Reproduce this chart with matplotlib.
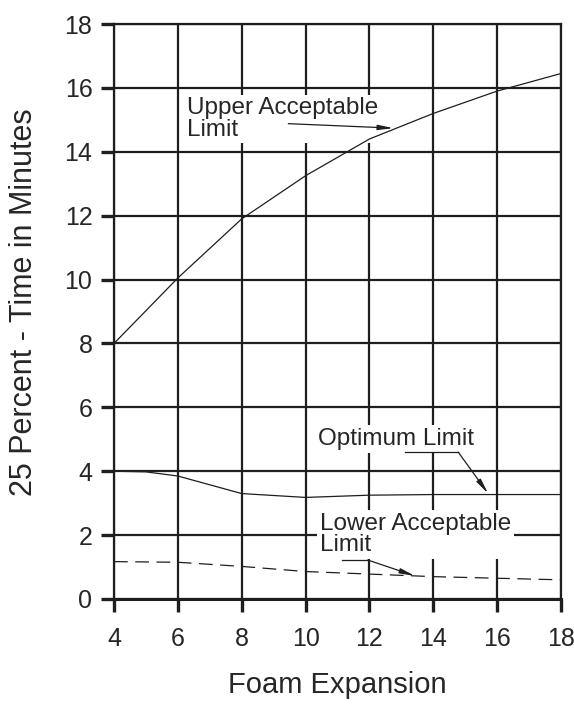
import matplotlib
matplotlib.use("Agg")
import matplotlib.pyplot as plt
import numpy as np

plt.rcParams['font.family'] = ['Liberation Sans', 'DejaVu Sans']

foam_expansion = [4, 6, 8, 10, 12, 14, 16, 18]
upper_limit = [8.0, 10.05, 11.9, 13.25, 14.4, 15.2, 15.9, 16.45]
optimum_x = [4, 5, 6, 8, 10, 12, 14, 16, 18]
optimum_limit = [4.0, 3.98, 3.85, 3.3, 3.18, 3.25, 3.27, 3.27, 3.27]
lower_limit = [1.17, 1.15, 1.02, 0.86, 0.78, 0.70, 0.65, 0.60]

x_ticks = [4, 6, 8, 10, 12, 14, 16, 18]
y_ticks = [0, 2, 4, 6, 8, 10, 12, 14, 16, 18]

fig = plt.figure(figsize=(5.74, 7.06), dpi=100)
ax = fig.add_axes([114/574, 1-599/706, 447/574, 575/706])

ink = '#1e1e1e'
txt = '#262626'
# grid
for xv in x_ticks:
    ax.axvline(xv, color=ink, lw=1.6, zorder=1)
for yv in y_ticks:
    ax.axhline(yv, color=ink, lw=1.6, zorder=1)

ax.plot(foam_expansion, upper_limit, color=ink, lw=0.9, zorder=6)
ax.plot(optimum_x, optimum_limit, color=ink, lw=0.9, zorder=6)
ax.plot(foam_expansion, lower_limit, color=ink, lw=0.9, dashes=(11, 6), zorder=6)

ax.set_xlim(4, 18)
ax.set_ylim(0, 18)
ax.set_xticks(x_ticks)
ax.set_yticks(y_ticks)
ax.tick_params(axis='both', length=9.5, width=2.4, color=ink, labelsize=18,
               labelcolor=txt, direction='out')
ax.tick_params(axis='x', pad=11)
ax.tick_params(axis='y', pad=6)
for s in ax.spines.values():
    s.set_linewidth(1.6)
    s.set_color(ink)
ax.spines['bottom'].set_linewidth(2.2)

ax.set_xlabel('Foam Expansion', fontsize=21, color=txt)
ax.xaxis.set_label_coords(0.5, -0.125)
ax.set_ylabel('25 Percent - Time in Minutes', fontsize=22, color=txt)
ax.yaxis.set_label_coords(-0.168, 0.5165)

bb = dict(facecolor='white', edgecolor='none', pad=2)
fs = 17.5
ax.text(6.29, 15.7, 'Upper Acceptable\nLimit', fontsize=fs, color=txt,
        va='top', ha='left', bbox=bb, zorder=4, linespacing=0.95)
ax.annotate('', xy=(12.75, 14.74), xytext=(9.46, 14.88),
            arrowprops=dict(arrowstyle='-|>,head_length=0.9,head_width=0.15',
                            color=ink, lw=0.9, shrinkA=0, shrinkB=0), zorder=5)

ax.text(10.4, 5.35, 'Optimum Limit', fontsize=fs, color=txt,
        va='top', ha='left', bbox=bb, zorder=4)
ax.plot([13.11, 14.78], [4.6, 4.6], color=ink, lw=0.9, zorder=5)
ax.annotate('', xy=(15.72, 3.3), xytext=(14.78, 4.6),
            arrowprops=dict(arrowstyle='-|>,head_length=0.9,head_width=0.15',
                            color=ink, lw=0.9, shrinkA=0, shrinkB=0), zorder=5)

ax.text(10.45, 2.7, 'Lower Acceptable\nLimit', fontsize=fs, color=txt,
        va='top', ha='left', bbox=bb, zorder=4, linespacing=0.95)
ax.plot([11.13, 11.95], [1.22, 1.22], color=ink, lw=0.9, zorder=5)
ax.annotate('', xy=(13.43, 0.72), xytext=(11.95, 1.22),
            arrowprops=dict(arrowstyle='-|>,head_length=0.9,head_width=0.15',
                            color=ink, lw=0.9, shrinkA=0, shrinkB=0), zorder=5)

fig.savefig('out.png', dpi=100, facecolor='white')
